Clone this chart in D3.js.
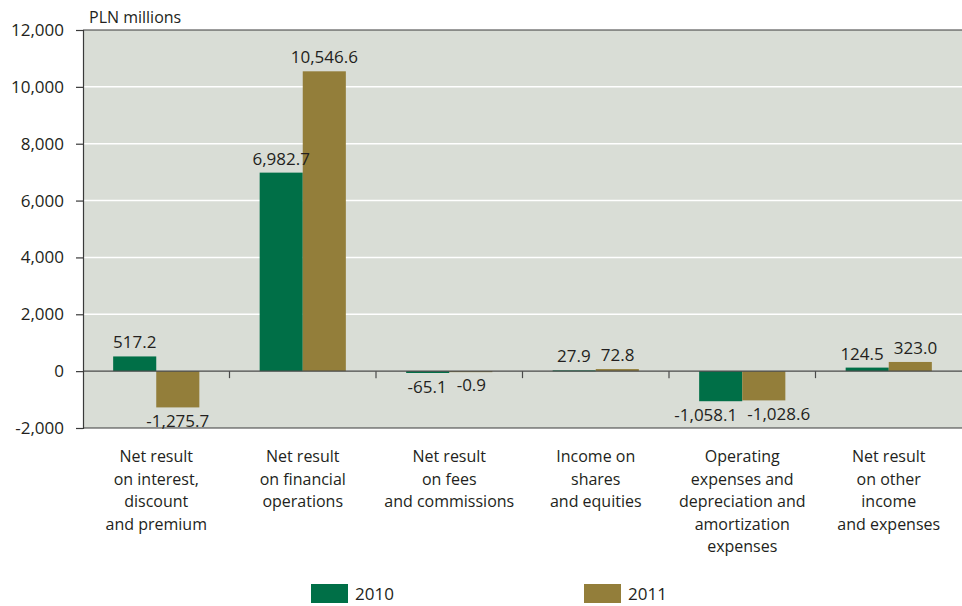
<!DOCTYPE html>
<html>
<head>
<meta charset="utf-8">
<script src="https://cdn.jsdelivr.net/npm/d3@7/dist/d3.min.js"></script>
<style>
  html, body { margin: 0; padding: 0; background: #ffffff; }
  svg { display: block; }
  text { font-family: "Open Sans", "DejaVu Sans", sans-serif; fill: #231f20; }
</style>
</head>
<body>
<svg id="chart" width="962" height="606"></svg>
<script>
// Category labels, one array of lines per category
const categories = [
  ["Net result", "on interest,", "discount", "and premium"],
  ["Net result", "on financial", "operations"],
  ["Net result", "on fees", "and commissions"],
  ["Income on", "shares", "and equities"],
  ["Operating", "expenses and", "depreciation and", "amortization", "expenses"],
  ["Net result", "on other", "income", "and expenses"]
];
const seriesNames = ["2010", "2011"];
const values2010 = [517.2, 6982.7, -65.1, 27.9, -1058.1, 124.5];
const values2011 = [-1275.7, 10546.6, -0.9, 72.8, -1028.6, 323.0];
const yTicks = [-2000, 0, 2000, 4000, 6000, 8000, 10000, 12000];
const unitLabel = "PLN millions";

const colors = { "2010": "#006f47", "2011": "#937e3a" };
const seriesValues = { "2010": values2010, "2011": values2011 };

const svg = d3.select("#chart");
const plot = { left: 83, right: 962, top: 30, bottom: 428 };

const catIds = categories.map((_, i) => i);
const x0 = d3.scaleBand().domain(catIds).range([plot.left, plot.right]).padding(0);
const x1 = d3.scaleBand().domain(seriesNames).range([0, x0.bandwidth()])
  .paddingInner(0).paddingOuter(0.7);
const y = d3.scaleLinear().domain([-2000, 12000]).range([plot.bottom, plot.top]);

// plain hyphen for negatives
const fmtValue = v => d3.format(",.1f")(v).replace("\u2212", "-");
const fmtTick = v => d3.format(",")(v).replace("\u2212", "-");

// plot background
svg.append("rect")
  .attr("x", plot.left).attr("y", plot.top)
  .attr("width", plot.right - plot.left).attr("height", plot.bottom - plot.top)
  .attr("fill", "#d9ddd6");

// white gridlines
svg.append("g")
  .selectAll("line")
  .data(yTicks.filter(t => t !== 0 && t !== -2000 && t !== 12000))
  .join("line")
  .attr("x1", plot.left).attr("x2", plot.right)
  .attr("y1", d => y(d)).attr("y2", d => y(d))
  .attr("stroke", "#ffffff").attr("stroke-width", 1.5);

// top and bottom frame lines
[12000, -2000].forEach(v => {
  svg.append("line")
    .attr("x1", plot.left).attr("x2", plot.right)
    .attr("y1", y(v)).attr("y2", y(v))
    .attr("stroke", "#3a3a3a").attr("stroke-width", 1.2);
});

// bars
const groups = svg.append("g")
  .selectAll("g")
  .data(catIds)
  .join("g")
  .attr("transform", i => `translate(${x0(i)},0)`);

const barData = i => seriesNames.map(s => ({ s, v: seriesValues[s][i] }));

groups.selectAll("rect")
  .data(barData)
  .join("rect")
  .attr("x", d => x1(d.s))
  .attr("width", x1.bandwidth())
  .attr("y", d => y(Math.max(0, d.v)))
  .attr("height", d => Math.max(1, Math.abs(y(d.v) - y(0))))
  .attr("fill", d => colors[d.s]);

// value labels: above positive bars, below negative ones
groups.selectAll("text")
  .data(barData)
  .join("text")
  .attr("x", d => x1(d.s) + x1.bandwidth() / 2)
  .attr("y", d => d.v >= 0 ? y(d.v) - 8 : y(d.v) + 20)
  .attr("text-anchor", "middle")
  .attr("font-size", 17)
  .text(d => fmtValue(d.v));

// spread apart neighbouring labels that would collide
const labelGap = 10;
groups.each(function () {
  const texts = d3.select(this).selectAll("text").nodes();
  for (let k = 0; k < texts.length - 1; k++) {
    const a = texts[k].getBBox(), b = texts[k + 1].getBBox();
    const vOverlap = a.y < b.y + b.height && b.y < a.y + a.height;
    const need = (a.x + a.width + labelGap) - b.x;
    if (vOverlap && need > 0) {
      const ax = +texts[k].getAttribute("x"), bx = +texts[k + 1].getAttribute("x");
      texts[k].setAttribute("x", ax - need / 2);
      texts[k + 1].setAttribute("x", bx + need / 2);
    }
  }
});

// zero line with category separator ticks
svg.append("line")
  .attr("x1", plot.left).attr("x2", plot.right)
  .attr("y1", y(0)).attr("y2", y(0))
  .attr("stroke", "#4a4a4a").attr("stroke-width", 1.2);

svg.append("g")
  .selectAll("line")
  .data(catIds.slice(1))
  .join("line")
  .attr("x1", i => x0(i)).attr("x2", i => x0(i))
  .attr("y1", y(0)).attr("y2", y(0) + 7)
  .attr("stroke", "#4a4a4a").attr("stroke-width", 1.2);

// y axis
const yAxis = d3.axisLeft(y).tickValues(yTicks).tickSize(7).tickPadding(12)
  .tickFormat(fmtTick);
const yg = svg.append("g").attr("transform", `translate(${plot.left},0)`).call(yAxis);
yg.select(".domain").attr("stroke", "#3a3a3a").attr("stroke-width", 1.2);
yg.selectAll(".tick line").attr("stroke", "#3a3a3a").attr("stroke-width", 1.2);
yg.selectAll(".tick text")
  .attr("font-size", 17)
  .attr("font-family", "\"Open Sans\", \"DejaVu Sans\", sans-serif")
  .attr("fill", "#231f20");

// unit label
svg.append("text")
  .attr("x", plot.left + 6).attr("y", 23)
  .attr("font-size", 16)
  .text(unitLabel);

// category labels
svg.append("g")
  .selectAll("text")
  .data(catIds)
  .join("text")
  .attr("x", i => x0(i) + x0.bandwidth() / 2)
  .attr("y", 462)
  .attr("text-anchor", "middle")
  .attr("font-size", 16)
  .selectAll("tspan")
  .data(i => categories[i])
  .join("tspan")
  .attr("x", function () { return d3.select(this.parentNode).attr("x"); })
  .attr("dy", (d, j) => j === 0 ? 0 : 22.5)
  .text(d => d);

// legend
const legendX = d3.scaleOrdinal().domain(seriesNames).range([311, 584]);
const legend = svg.append("g")
  .selectAll("g")
  .data(seriesNames)
  .join("g")
  .attr("transform", s => `translate(${legendX(s)},584)`);
legend.append("rect")
  .attr("width", 37).attr("height", 19)
  .attr("fill", s => colors[s]);
legend.append("text")
  .attr("x", 44).attr("y", 16)
  .attr("font-size", 17)
  .text(s => s);
</script>
</body>
</html>
